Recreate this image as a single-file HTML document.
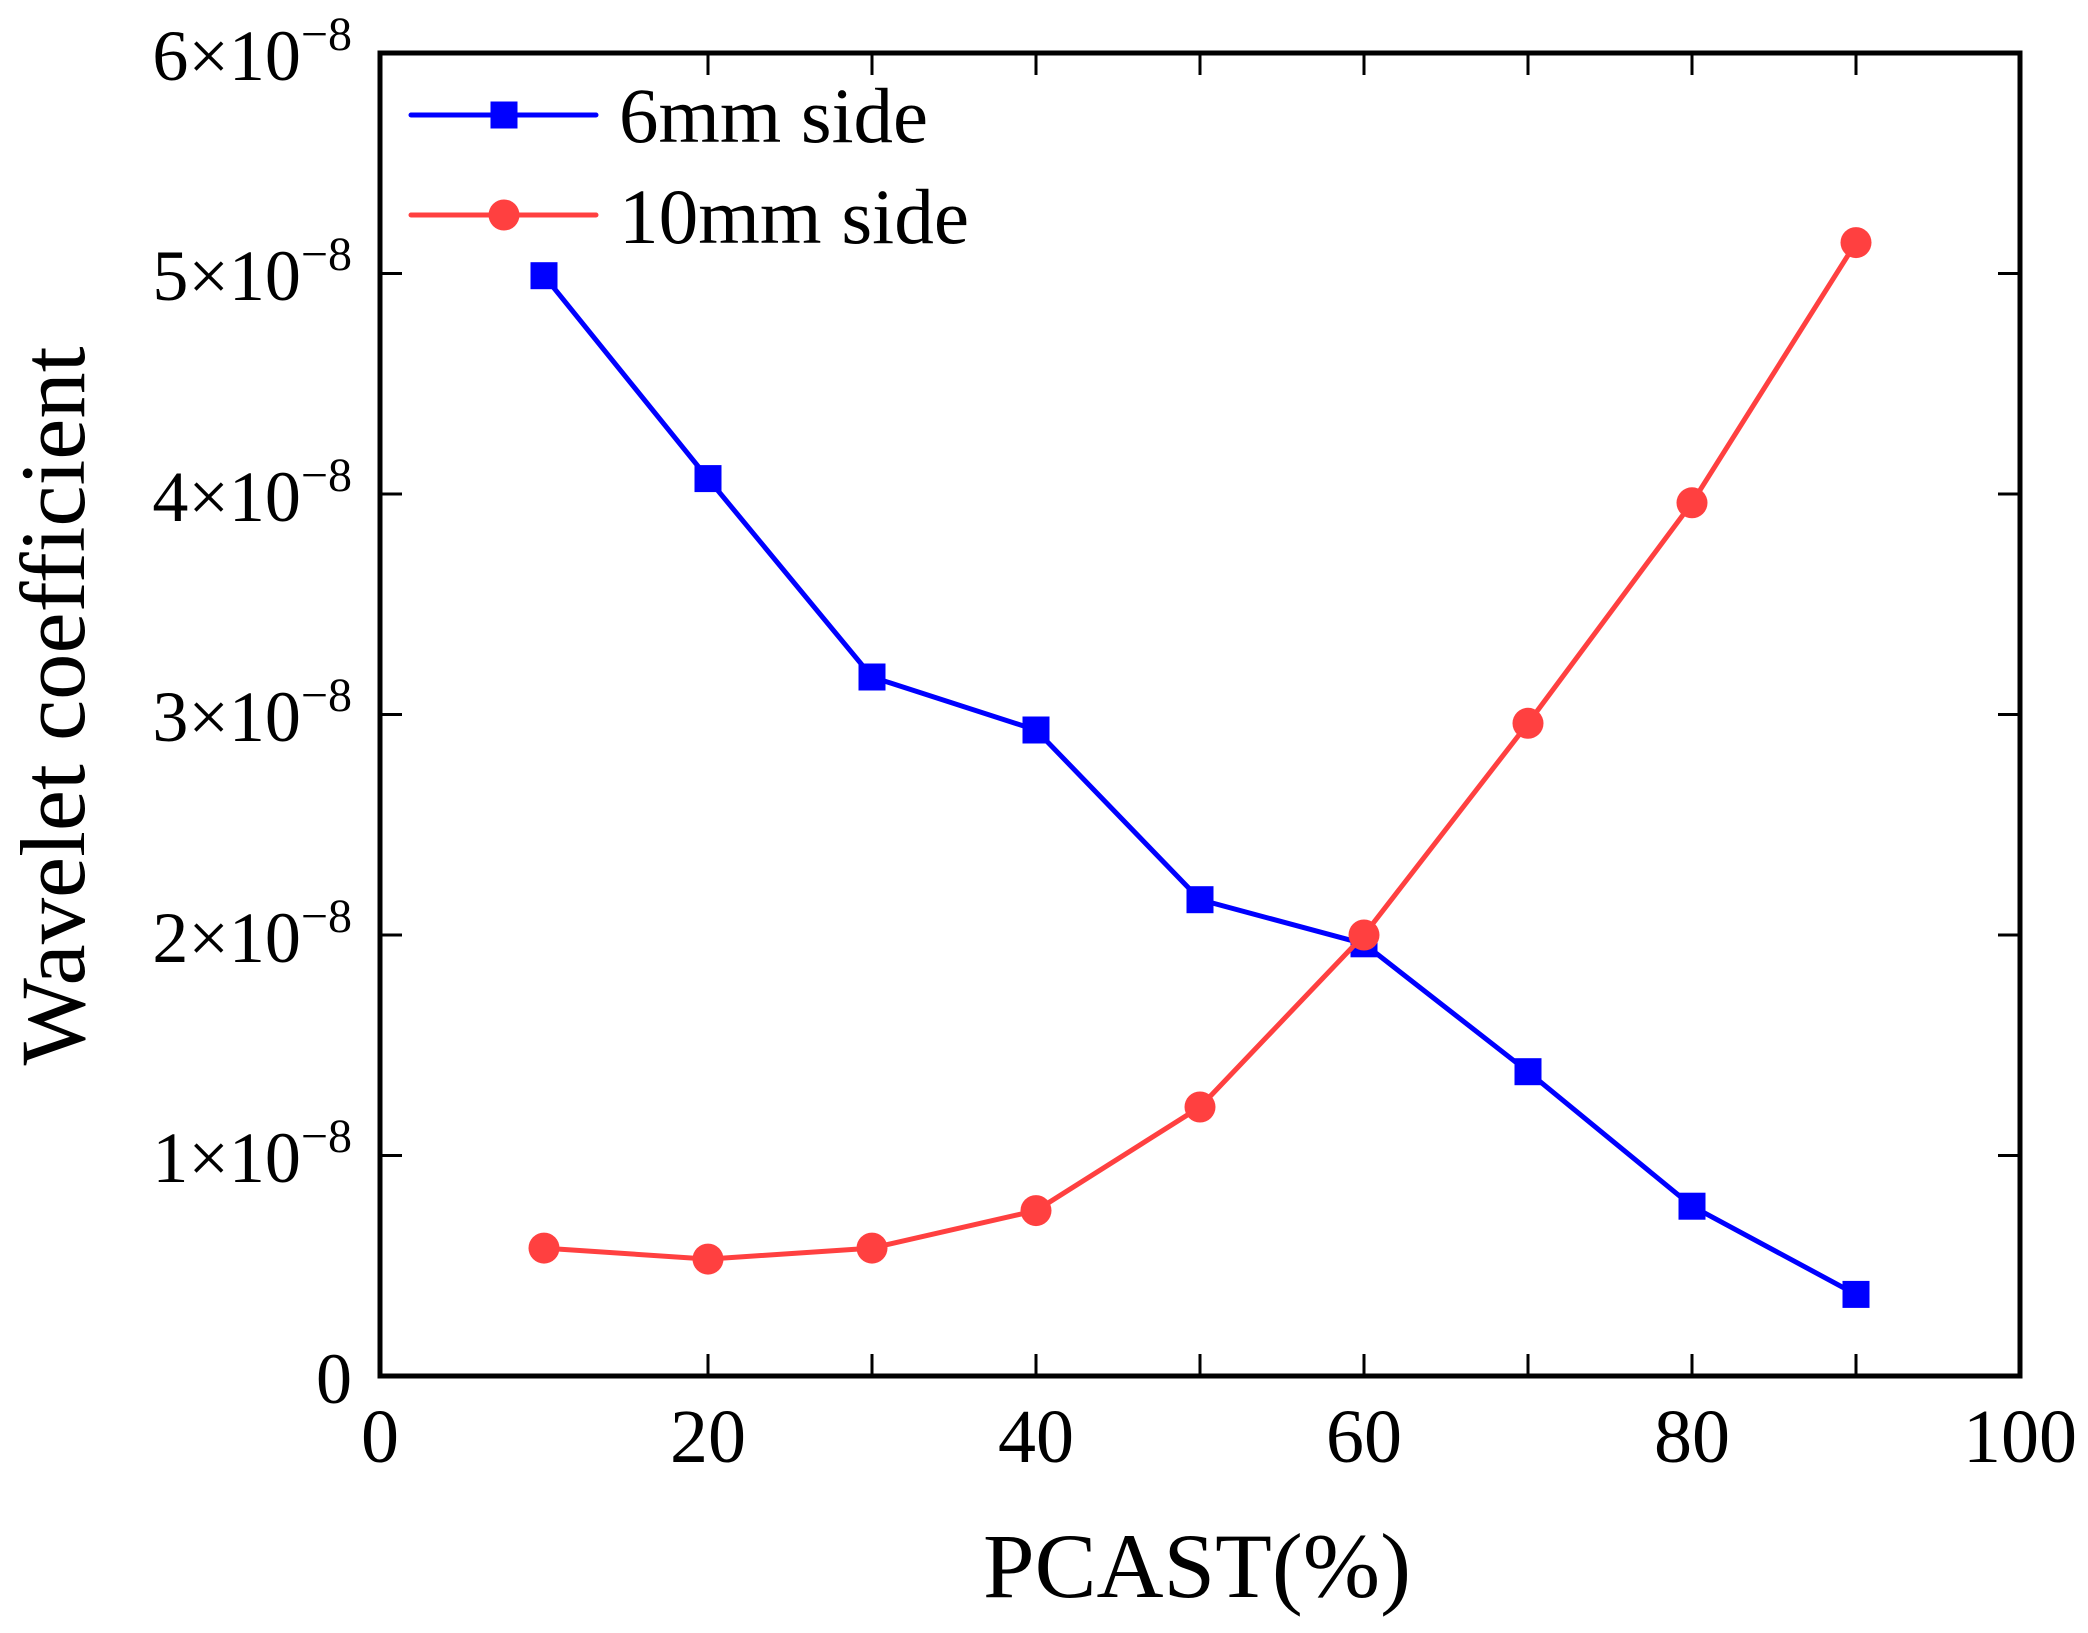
<!DOCTYPE html>
<html><head><meta charset="utf-8"><style>html,body{margin:0;padding:0;background:#fff}</style></head>
<body>
<svg width="2088" height="1628" viewBox="0 0 2088 1628" xmlns="http://www.w3.org/2000/svg" font-family="'Liberation Serif', serif">
<rect width="2088" height="1628" fill="#fff"/>
<!-- ticks -->
<g stroke="#000" stroke-width="3">
<path d="M708 1376v-22M872 1376v-22M1036 1376v-22M1200 1376v-22M1364 1376v-22M1528 1376v-22M1692 1376v-22M1856 1376v-22"/>
<path d="M708 53v22M872 53v22M1036 53v22M1200 53v22M1364 53v22M1528 53v22M1692 53v22M1856 53v22"/>
<path d="M380 1155.5h22M380 935h22M380 714.5h22M380 494h22M380 273.5h22"/>
<path d="M2020 1155.5h-22M2020 935h-22M2020 714.5h-22M2020 494h-22M2020 273.5h-22"/>
</g>
<rect x="380" y="53" width="1640" height="1323" fill="none" stroke="#000" stroke-width="5"/>
<!-- blue series -->
<polyline fill="none" stroke="#0000FF" stroke-width="5" points="544,275.7 708,478.6 872,677 1036,730 1200,899.7 1364,943.8 1528,1071.7 1692,1206.2 1856,1294.4"/>
<g fill="#0000FF">
<rect x="530.5" y="262.2" width="27" height="27"/><rect x="694.5" y="465.1" width="27" height="27"/><rect x="858.5" y="663.5" width="27" height="27"/><rect x="1022.5" y="716.5" width="27" height="27"/><rect x="1186.5" y="886.2" width="27" height="27"/><rect x="1350.5" y="930.3" width="27" height="27"/><rect x="1514.5" y="1058.2" width="27" height="27"/><rect x="1678.5" y="1192.7" width="27" height="27"/><rect x="1842.5" y="1280.9" width="27" height="27"/>
</g>
<!-- red series -->
<polyline fill="none" stroke="#FF4040" stroke-width="5" points="544,1248.1 708,1259.1 872,1248.1 1036,1210.6 1200,1107 1364,935 1528,723.3 1692,502.8 1856,242.6"/>
<g fill="#FF4040">
<circle cx="544" cy="1248.1" r="15.5"/><circle cx="708" cy="1259.1" r="15.5"/><circle cx="872" cy="1248.1" r="15.5"/><circle cx="1036" cy="1210.6" r="15.5"/><circle cx="1200" cy="1107" r="15.5"/><circle cx="1364" cy="935" r="15.5"/><circle cx="1528" cy="723.3" r="15.5"/><circle cx="1692" cy="502.8" r="15.5"/><circle cx="1856" cy="242.6" r="15.5"/>
</g>
<!-- legend -->
<line x1="411" y1="115" x2="596" y2="115" stroke="#0000FF" stroke-width="5" stroke-linecap="round"/>
<rect x="490.5" y="101.5" width="27" height="27" fill="#0000FF"/>
<line x1="411" y1="215" x2="596" y2="215" stroke="#FF4040" stroke-width="5" stroke-linecap="round"/>
<circle cx="504" cy="215" r="15.5" fill="#FF4040"/>
<g font-size="78" fill="#000">
<text x="619" y="142" textLength="309" lengthAdjust="spacingAndGlyphs">6mm side</text>
<text x="619" y="243" textLength="350" lengthAdjust="spacingAndGlyphs">10mm side</text>
</g>
<!-- x tick labels -->
<g font-size="76" text-anchor="middle" fill="#000">
<text x="380" y="1462">0</text><text x="708" y="1462">20</text><text x="1036" y="1462">40</text><text x="1364" y="1462">60</text><text x="1692" y="1462">80</text><text x="2020" y="1462">100</text>
</g>
<!-- y tick labels -->
<g font-size="72" text-anchor="end" fill="#000">
<text x="352" y="1403">0</text>
<text x="352" y="1182">1×10<tspan font-size="48" dy="-30">−8</tspan></text>
<text x="352" y="962">2×10<tspan font-size="48" dy="-30">−8</tspan></text>
<text x="352" y="741">3×10<tspan font-size="48" dy="-30">−8</tspan></text>
<text x="352" y="521">4×10<tspan font-size="48" dy="-30">−8</tspan></text>
<text x="352" y="300">5×10<tspan font-size="48" dy="-30">−8</tspan></text>
<text x="352" y="80">6×10<tspan font-size="48" dy="-30">−8</tspan></text>
</g>
<!-- axis titles -->
<text x="1197" y="1597" font-size="92" text-anchor="middle" textLength="428" lengthAdjust="spacingAndGlyphs">PCAST(%)</text>
<text transform="translate(84,706) rotate(-90)" font-size="92" text-anchor="middle" textLength="719" lengthAdjust="spacingAndGlyphs">Wavelet coefficient</text>
</svg>
</body></html>
